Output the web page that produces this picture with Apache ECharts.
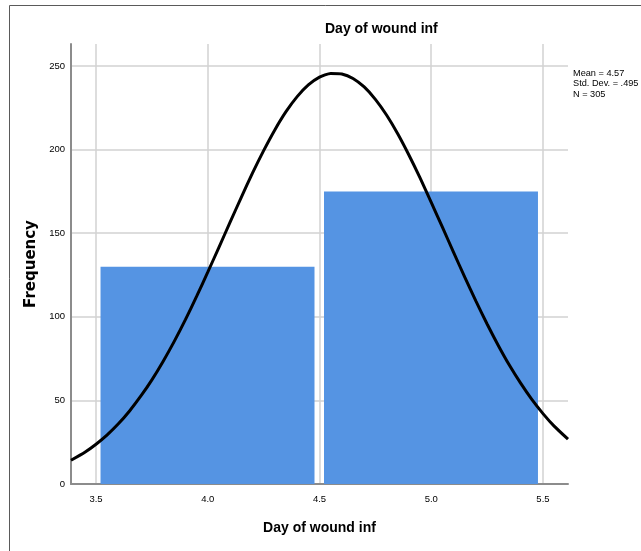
<!DOCTYPE html>
<html>
<head>
<meta charset="utf-8">
<script src="https://cdn.jsdelivr.net/npm/echarts@6/dist/echarts.min.js"></script>
<style>
html,body{margin:0;padding:0;background:#fff;}
#chart{width:641px;height:551px;}
</style>
</head>
<body>
<div id="chart"></div>
<script>
// Histogram bins: [lower edge, upper edge]
var binLower = [3.5, 4.5];
var binUpper = [4.5, 5.5];
var binCounts = [130, 175];

// Normal curve
var curveX = [3.388, 3.45, 3.5, 3.55, 3.6, 3.65, 3.7, 3.75, 3.8, 3.85, 3.9, 3.95, 4.0, 4.05, 4.1, 4.15, 4.2, 4.25, 4.3, 4.35, 4.4, 4.45, 4.5, 4.55, 4.6, 4.65, 4.7, 4.75, 4.8, 4.85, 4.9, 4.95, 5.0, 5.05, 5.1, 5.15, 5.2, 5.25, 5.3, 5.35, 5.4, 5.45, 5.5, 5.55, 5.612];
var curveY = [14.2, 19.0, 23.8, 29.4, 36.0, 43.7, 52.5, 62.3, 73.3, 85.3, 98.3, 112.2, 126.7, 141.6, 156.6, 171.5, 185.9, 199.4, 211.8, 222.7, 231.7, 238.7, 243.4, 245.6, 245.3, 242.6, 237.5, 230.1, 220.7, 209.5, 196.8, 183.1, 168.5, 153.6, 138.6, 123.7, 109.4, 95.7, 82.9, 71.0, 60.3, 50.6, 42.1, 34.6, 26.8];

var xTicks = [3.5, 4.0, 4.5, 5.0, 5.5];
var yTicks = [0, 50, 100, 150, 200, 250];

var chartTitle = 'Day of wound inf';
var xName = 'Day of wound inf';
var yName = 'Frequency';
var statsLines = ['Mean = 4.57', 'Std. Dev. = .495', 'N = 305'];

var barData = binCounts.map(function (c, i) { return [binLower[i], binUpper[i], c]; });
var lineData = curveX.map(function (x, i) { return [x, curveY[i]]; });

var chart = echarts.init(document.getElementById('chart'), null, {renderer: 'canvas'});
var font = 'Liberation Sans, Arial, sans-serif';

chart.setOption({
  animation: false,
  backgroundColor: '#ffffff',
  title: [{
    text: chartTitle,
    left: 325, top: 22, padding: 0,
    textStyle: {fontFamily: font, fontSize: 14, fontWeight: 'bold', color: '#000'}
  }, {
    text: statsLines.join('\n'),
    left: 573, top: 68, padding: 0,
    textStyle: {fontFamily: font, fontSize: 9.2, fontWeight: 'normal', color: '#000', lineHeight: 10.5}
  }],
  graphic: [{
    type: 'rect', silent: true, z: -10,
    shape: {x: 9.5, y: 5.5, width: 700, height: 700},
    style: {fill: 'none', stroke: '#5a5a5a', lineWidth: 1}
  }],
  grid: {left: 71, right: 73, top: 44, bottom: 67, containLabel: false},
  xAxis: {
    type: 'value',
    min: 3.388, max: 5.612,
    name: xName, nameLocation: 'middle', nameGap: 37,
    nameTextStyle: {fontFamily: font, fontSize: 14, fontWeight: 'bold', color: '#000'},
    axisLine: {show: true, onZero: false, lineStyle: {color: '#8c8c8c', width: 2}},
    axisTick: {show: false, customValues: xTicks},
    axisLabel: {customValues: xTicks, margin: 10, fontFamily: font, fontSize: 9.5, color: '#000',
      formatter: function (v) { return v.toFixed(1); }},
    splitLine: {show: true, customValues: xTicks, lineStyle: {color: '#d2d2d2', width: 1.5}}
  },
  yAxis: {
    type: 'value',
    min: 0, max: 263.2,
    name: yName, nameLocation: 'middle', nameGap: 32,
    nameTextStyle: {fontFamily: 'DejaVu Sans, sans-serif', fontSize: 15, fontWeight: 'bold', color: '#000'},
    axisLine: {show: true, lineStyle: {color: '#8c8c8c', width: 2}},
    axisTick: {show: false, customValues: yTicks},
    axisLabel: {customValues: yTicks, margin: 6, fontFamily: font, fontSize: 9.5, color: '#000'},
    splitLine: {show: true, customValues: yTicks, lineStyle: {color: '#d2d2d2', width: 1.5}}
  },
  series: [{
    type: 'custom',
    data: barData,
    encode: {x: [0, 1], y: 2},
    clip: true,
    renderItem: function (params, api) {
      var p0 = api.coord([api.value(0), 0]);
      var p1 = api.coord([api.value(1), api.value(2)]);
      var insetL = 4.5, insetR = 5;
      return {
        type: 'rect',
        shape: {x: p0[0] + insetL, y: p1[1], width: p1[0] - p0[0] - insetL - insetR, height: p0[1] - p1[1]},
        style: {fill: '#5594e3'}
      };
    }
  }, {
    type: 'line',
    data: lineData,
    smooth: 0.2,
    showSymbol: false,
    clip: true,
    lineStyle: {color: '#000', width: 3},
    z: 5
  }]
});
</script>
</body>
</html>
